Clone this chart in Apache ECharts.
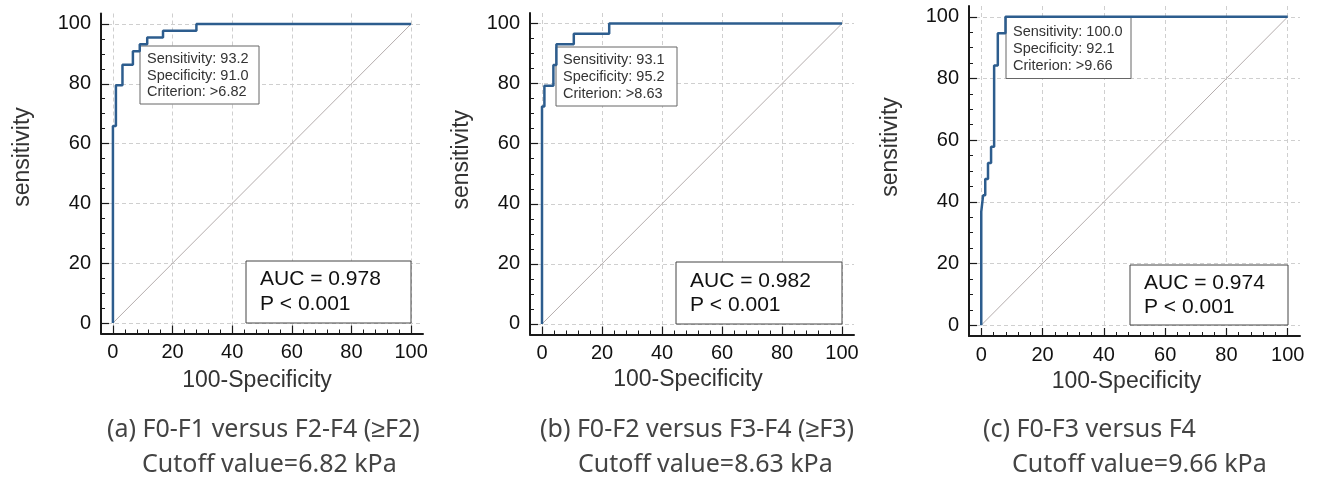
<!DOCTYPE html>
<html>
  <head>
    <meta charset="utf-8" />
    <script src="https://cdn.jsdelivr.net/npm/echarts@6.0.0/dist/echarts.min.js"></script>
    <style>
      body { margin: 0; background: #fff; }
    </style>
  </head>
  <body>
    <div id="main" style="width: 1317px;height:482px;"></div>
    <script type="text/javascript">
      // ROC points [100-Specificity, Sensitivity], drawn as steps
      var rocA = [[0, 0], [0, 65.9], [1, 79.5], [3.2, 86.4], [6.7, 90.9], [9, 93.2], [11.5, 95.5], [16.8, 97.7], [28, 100], [100, 100]];
      var rocB = [[0, 0], [0, 72.4], [0.8, 79.3], [3.8, 86.2], [4.8, 93.1], [10.6, 96.6], [22.4, 100], [100, 100]];
      var rocC = [[0, 0], [0, 36.8], [0.6, 42.1], [1.3, 47.4], [2.2, 52.6], [3.2, 57.9], [4.2, 84.2], [5.4, 94.7], [7.9, 100], [100, 100]];
      var diagonal = [[0, 0], [100, 100]];

      var majorTicks = [0, 20, 40, 60, 80, 100];
      var xMinorTicks = [4, 8, 12, 16, 24, 28, 32, 36, 44, 48, 52, 56, 64, 68, 72, 76, 84, 88, 92, 96];
      var yMinorTicks = [5, 10, 15, 25, 30, 35, 45, 50, 55, 65, 70, 75, 85, 90, 95];

      var cutoffText = [
        ['Sensitivity: 93.2', 'Specificity: 91.0', 'Criterion: >6.82'],
        ['Sensitivity: 93.1', 'Specificity: 95.2', 'Criterion: >8.63'],
        ['Sensitivity: 100.0', 'Specificity: 92.1', 'Criterion: >9.66']
      ];
      var aucText = [
        ['AUC = 0.978', 'P < 0.001'],
        ['AUC = 0.982', 'P < 0.001'],
        ['AUC = 0.974', 'P < 0.001']
      ];
      var captions = [
        ['(a) F0-F1 versus F2-F4 (≥F2)', 'Cutoff value=6.82 kPa'],
        ['(b) F0-F2 versus F3-F4 (≥F3)', 'Cutoff value=8.63 kPa'],
        ['(c) F0-F3 versus F4', 'Cutoff value=9.66 kPa']
      ];
      var rocs = [rocA, rocB, rocC];

      // layout per panel
      var panels = [
        { grid: { left: 101, top: 13.5, width: 322, height: 320 },
          xNameGap: 36, xNamePad: 10, yNameGap: 67, yNamePad: 33,
          sens: { x: 140, y: 46, w: 119, h: 58, tx: 147, ty: [59, 75.5, 92] },
          auc: { x: 246, y: 261, w: 165, h: 62, tx: 260, ty: [279.5, 304] },
          cap: [{ x: 107, y: 430 }, { x: 142, y: 465 }] },
        { grid: { left: 530, top: 13, width: 324, height: 321.5 },
          xNameGap: 33, xNamePad: 8, yNameGap: 57, yNamePad: 28,
          sens: { x: 556, y: 47, w: 121, h: 59, tx: 563, ty: [60, 77, 93.5] },
          auc: { x: 676, y: 262, w: 166, h: 62, tx: 690, ty: [281, 305] },
          cap: [{ x: 540, y: 430 }, { x: 578, y: 465 }] },
        { grid: { left: 969, top: 6, width: 331, height: 330 },
          xNameGap: 32, xNamePad: 16, yNameGap: 67, yNamePad: 48,
          sens: { x: 1006, y: 17.5, w: 125, h: 61, tx: 1013, ty: [32, 49, 66] },
          auc: { x: 1130, y: 265, w: 158, h: 60, tx: 1144, ty: [283, 307] },
          cap: [{ x: 983, y: 430 }, { x: 1012, y: 465 }] }
      ];

      var axisFont = 'Liberation Sans, Arial, sans-serif';
      var grids = [], xAxes = [], yAxes = [], series = [], graphics = [];

      panels.forEach(function (p, i) {
        grids.push(p.grid);
        // main axes
        xAxes.push({
          gridIndex: i, type: 'value', min: -4, max: 104, position: 'bottom',
          name: '100-Specificity', nameLocation: 'middle', nameGap: p.xNameGap,
          nameTextStyle: { fontFamily: axisFont, fontSize: 23, color: '#333', padding: [0, p.xNamePad, 0, 0] },
          axisLine: { onZero: false, lineStyle: { color: '#1a1a1a', width: 2 } },
          axisTick: { inside: true, length: 8, customValues: majorTicks, lineStyle: { color: '#1a1a1a', width: 1.2 } },
          axisLabel: { customValues: majorTicks, margin: 9,
            fontFamily: axisFont, fontSize: 20, color: '#111' },
          splitLine: { show: true, lineStyle: { color: '#cfcfcf', type: [4, 3], width: 1 } }
        });
        yAxes.push({
          gridIndex: i, type: 'value', min: -3.5, max: 103.5, position: 'left',
          name: 'sensitivity', nameLocation: 'middle', nameGap: p.yNameGap,
          nameTextStyle: { fontFamily: axisFont, fontSize: 23, color: '#333', padding: [0, 0, 0, p.yNamePad] },
          axisLine: { onZero: false, lineStyle: { color: '#1a1a1a', width: 2 } },
          axisTick: { inside: true, length: 8, customValues: majorTicks, lineStyle: { color: '#1a1a1a', width: 1.2 } },
          axisLabel: { customValues: majorTicks, margin: 10,
            fontFamily: axisFont, fontSize: 20, color: '#111' },
          splitLine: { show: true, lineStyle: { color: '#cfcfcf', type: [4, 3], width: 1 } }
        });
        // minor tick axes
        xAxes.push({
          gridIndex: i, type: 'value', min: -4, max: 104, position: 'bottom',
          axisLine: { show: false, onZero: false }, axisLabel: { show: false }, splitLine: { show: false },
          axisTick: { inside: true, length: 4, customValues: xMinorTicks, lineStyle: { color: '#1a1a1a', width: 1 } }
        });
        yAxes.push({
          gridIndex: i, type: 'value', min: -3.5, max: 103.5, position: 'left',
          axisLine: { show: false, onZero: false }, axisLabel: { show: false }, splitLine: { show: false },
          axisTick: { inside: true, length: 4, customValues: yMinorTicks, lineStyle: { color: '#1a1a1a', width: 1 } }
        });

        series.push({
          type: 'line', xAxisIndex: i * 2, yAxisIndex: i * 2, data: diagonal,
          symbol: 'none', silent: true, z: 2,
          lineStyle: { color: '#b5adad', width: 1 }
        });
        series.push({
          type: 'line', xAxisIndex: i * 2, yAxisIndex: i * 2, data: rocs[i],
          step: 'end', symbol: 'none', z: 4,
          lineStyle: { color: '#2d5d8e', width: 2.5 }
        });

        // criterion box
        graphics.push({
          type: 'rect', z: 3, shape: { x: p.sens.x, y: p.sens.y, width: p.sens.w, height: p.sens.h },
          style: { fill: '#fff', stroke: '#666', lineWidth: 1 }
        });
        cutoffText[i].forEach(function (t, k) {
          graphics.push({ type: 'text', z: 3, x: p.sens.tx, y: p.sens.ty[k],
            style: { text: t, font: '14.5px ' + axisFont, fill: '#333', verticalAlign: 'middle' } });
        });
        // AUC box
        graphics.push({
          type: 'rect', z: 3, shape: { x: p.auc.x, y: p.auc.y, width: p.auc.w, height: p.auc.h },
          style: { fill: '#fff', stroke: '#444', lineWidth: 1 }
        });
        aucText[i].forEach(function (t, k) {
          graphics.push({ type: 'text', z: 3, x: p.auc.tx, y: p.auc.ty[k],
            style: { text: t, font: '21px ' + axisFont, fill: '#111', verticalAlign: 'middle' } });
        });
        // captions
        captions[i].forEach(function (t, k) {
          graphics.push({ type: 'text', x: p.cap[k].x, y: p.cap[k].y,
            style: { text: t, font: '25px "Noto Sans", sans-serif', fill: '#444', verticalAlign: 'middle' } });
        });
      });

      var myChart = echarts.init(document.getElementById('main'));
      var option = {
        animation: false,
        backgroundColor: '#fff',
        grid: grids,
        xAxis: xAxes,
        yAxis: yAxes,
        series: series,
        graphic: graphics
      };
      myChart.setOption(option);
    </script>
  </body>
</html>
